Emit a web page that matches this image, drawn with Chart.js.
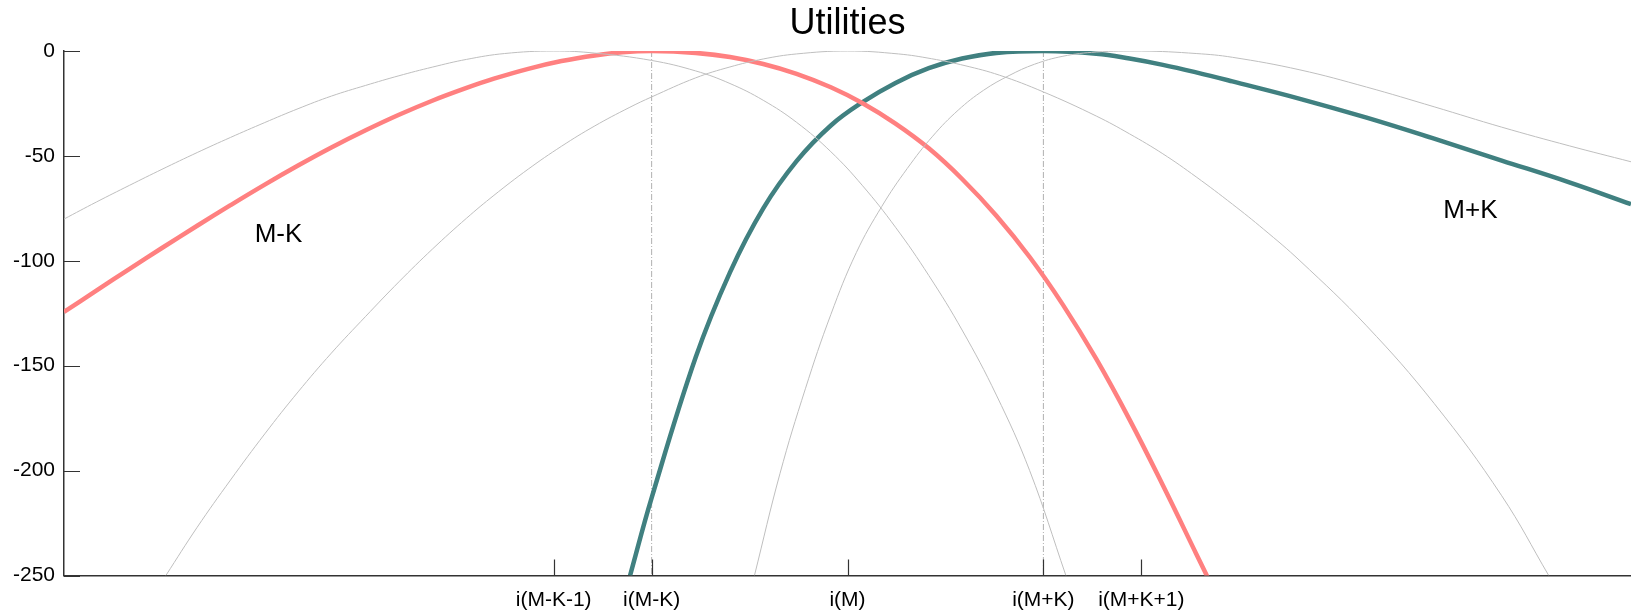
<!DOCTYPE html>
<html>
<head>
<meta charset="utf-8">
<title>Utilities</title>
<script src="https://cdn.jsdelivr.net/npm/chart.js@4.4.1/dist/chart.umd.min.js"></script>
<style>
    html, body { margin: 0; padding: 0; background: #fff; }
    #wrap { width: 1631px; height: 614px; position: relative; }
</style>
</head>
<body>
<div id="wrap"><canvas id="utilChart"></canvas></div>
<script>
// Utility curves, values
const titleText = 'Utilities';

const xTickVals = [-3, -2, 0, 2, 3];
const xTickLabels = ['i(M-K-1)', 'i(M-K)', 'i(M)', 'i(M+K)', 'i(M+K+1)'];
const yTickVals = [0, -50, -100, -150, -200, -250];

// thick curves
const mkX = [-8, -7.67, -7.33, -7, -6.64, -6.3, -5.95, -5.61, -5.27, -4.92, -4.58, -4.24, -3.89, -3.61, -3.26, -2.92, -2.58, -2.3, -2, -1.55, -1.2, -0.86, -0.52, -0.17, 0.15, 0.49, 0.83, 1.17, 1.52, 1.86, 2.2, 2.54, 2.88, 3.22, 3.56, 3.72];
const mkY = [-124.4, -114.2, -103.8, -93.9, -83.3, -73.5, -63.7, -54.6, -46, -37.8, -30.4, -23.7, -17.6, -13.2, -8.5, -4.8, -2.1, -0.6, 0, -0.9, -2.9, -6.2, -10.9, -17.3, -24.8, -34.6, -46.4, -61, -78.5, -98.2, -121, -146.8, -175.7, -207, -239.6, -255];

const pkX = [-2.22, -2, -1.55, -1.2, -0.86, -0.52, -0.17, 0.15, 0.49, 0.83, 1.17, 1.52, 2, 2.54, 2.88, 3.22, 3.56, 3.93, 4.62, 5.3, 5.99, 6.68, 7.37, 8];
const pkY = [-250, -213, -146, -105.5, -75, -52.5, -35.5, -24.5, -15.2, -8.2, -3.6, -0.9, 0, -1.3, -3.6, -6.6, -10.2, -14.5, -22.8, -31.8, -41.8, -52.2, -62.6, -73];

// thin gray curves
const grayAX = [-8, -7.67, -7.33, -7, -6.64, -6.3, -5.95, -5.61, -5.27, -4.92, -4.58, -4.24, -3.89, -3.5, -3, -2.58, -2, -1.55, -1.2, -0.86, -0.52, -0.17, 0.15, 0.49, 0.83, 1.17, 1.52, 1.86, 2.23];
const grayAY = [-80.1, -72, -64, -56.4, -48.4, -41.2, -34.1, -27.5, -21.5, -16.4, -11.8, -7.7, -4, -1.2, 0, -1, -4.5, -9.5, -15.5, -23.5, -34, -48, -64, -84, -107, -133, -164, -200, -250];

const grayBX = [-6.96, -6.64, -6.3, -5.95, -5.61, -5.27, -4.92, -4.58, -4.24, -3.89, -3.61, -3.26, -2.92, -2.58, -2.23, -2, -1.55, -1.2, -0.86, -0.52, 0, 0.52, 0.86, 1.2, 1.55, 2, 2.54, 2.88, 3.22, 3.56, 3.93, 4.25, 4.62, 5.3, 5.99, 6.68, 7.16];
const grayBY = [-250, -227, -204.5, -182.5, -162.5, -144, -126.5, -110, -94.5, -79.7, -68.8, -56.3, -45.4, -35.7, -27, -21.9, -12.8, -7.6, -3.8, -1.4, 0, -1.4, -3.7, -7, -11.5, -19.5, -31, -39.5, -49, -60, -73, -85, -100, -131, -168, -212, -250];

const grayCX = [-0.95, -0.69, -0.43, -0.17, 0.09, 0.35, 0.61, 0.87, 1.13, 1.39, 1.65, 1.91, 2.2, 2.54, 3, 3.56, 3.93, 4.62, 5.3, 5.99, 6.68, 7.37, 8];
const grayCY = [-250, -201.5, -161, -125.6, -96.1, -74.1, -56, -40.6, -28.2, -18.7, -11.7, -6.3, -2.5, -0.5, 0, -1.2, -3, -9, -17.2, -26.6, -36.3, -45.2, -52.8];

// vertical marker lines at the two types
const markerX = [-2, 2];

// curve labels
const curveLabels = ['M-K', 'M+K'];
const curveLabelX = [-5.81, 6.36];
const curveLabelY = [-87.7, -76];

const colors = {
    red: '#ff8080',
    teal: '#408080',
    gray: '#bfbfbf',
    marker: '#b0b0b0',
    axis: '#333333'
};

function pts(xs, ys) {
    return xs.map((x, i) => ({ x: x, y: ys[i] }));
}

function curve(xs, ys, color, width) {
    return {
        data: pts(xs, ys),
        borderColor: color,
        borderWidth: width,
        pointRadius: 0,
        tension: 0.4,
        fill: false
    };
}

const datasets = [
    curve(grayAX, grayAY, colors.gray, 1),
    curve(grayBX, grayBY, colors.gray, 1),
    curve(grayCX, grayCY, colors.gray, 1),
    curve(mkX, mkY, colors.red, 4.5),
    curve(pkX, pkY, colors.teal, 4.5)
];
markerX.forEach(v => {
    datasets.push({
        data: [{ x: v, y: yTickVals[0] }, { x: v, y: yTickVals[yTickVals.length - 1] }],
        borderColor: colors.marker,
        borderWidth: 1,
        borderDash: [6, 2, 1, 2],
        pointRadius: 0,
        fill: false
    });
});

// inward tick marks, title and curve labels
const decorPlugin = {
    id: 'decor',
    afterDraw: function(chart) {
        const ctx = chart.ctx;
        const a = chart.chartArea;
        const xs = chart.scales.x;
        const ys = chart.scales.y;
        ctx.save();
        ctx.strokeStyle = colors.axis;
        ctx.lineWidth = 1.2;
        ctx.beginPath();
        ys.ticks.forEach(t => {
            const py = Math.round(ys.getPixelForValue(t.value)) + 0.5;
            ctx.moveTo(a.left, py);
            ctx.lineTo(a.left + 16, py);
        });
        xs.ticks.forEach(t => {
            const px = Math.round(xs.getPixelForValue(t.value)) + 0.5;
            ctx.moveTo(px, a.bottom);
            ctx.lineTo(px, a.bottom - 16);
        });
        ctx.stroke();

        ctx.fillStyle = '#000';
        ctx.textAlign = 'center';
        ctx.textBaseline = 'middle';
        ctx.font = '36px "Liberation Sans", Arial, sans-serif';
        ctx.fillText(titleText, (a.left + a.right) / 2, 24);

        ctx.font = '26px "Liberation Sans", Arial, sans-serif';
        curveLabels.forEach((s, i) => {
            ctx.fillText(s, xs.getPixelForValue(curveLabelX[i]), ys.getPixelForValue(curveLabelY[i]));
        });
        ctx.restore();
    }
};

Chart.defaults.font.family = '"Liberation Sans", Arial, sans-serif';
Chart.defaults.color = '#000';

new Chart(document.getElementById('utilChart'), {
    type: 'line',
    data: { datasets: datasets },
    options: {
        responsive: true,
        maintainAspectRatio: false,
        animation: false,
        layout: { padding: { top: 51, right: 0, bottom: 0, left: 0 } },
        plugins: {
            legend: { display: false },
            tooltip: { enabled: false },
            title: { display: false }
        },
        scales: {
            x: {
                type: 'linear',
                min: -8,
                max: 8,
                afterBuildTicks: function(scale) {
                    scale.ticks = xTickVals.map(v => ({ value: v }));
                },
                afterFit: function(scale) {
                    scale.height = 38.5;
                },
                grid: { display: false, drawTicks: false },
                border: { display: true, color: colors.axis, width: 1.5 },
                ticks: {
                    autoSkip: false,
                    maxRotation: 0,
                    padding: 12,
                    font: { size: 21 },
                    callback: function(value) {
                        const i = xTickVals.indexOf(value);
                        return i >= 0 ? xTickLabels[i] : '';
                    }
                }
            },
            y: {
                type: 'linear',
                min: yTickVals[yTickVals.length - 1],
                max: yTickVals[0],
                afterBuildTicks: function(scale) {
                    scale.ticks = yTickVals.map(v => ({ value: v }));
                },
                afterFit: function(scale) {
                    scale.width = 64;
                },
                grid: { display: false, drawTicks: false },
                border: { display: true, color: colors.axis, width: 1.5 },
                ticks: {
                    padding: 9,
                    font: { size: 21 }
                }
            }
        }
    },
    plugins: [decorPlugin]
});
</script>
</body>
</html>
